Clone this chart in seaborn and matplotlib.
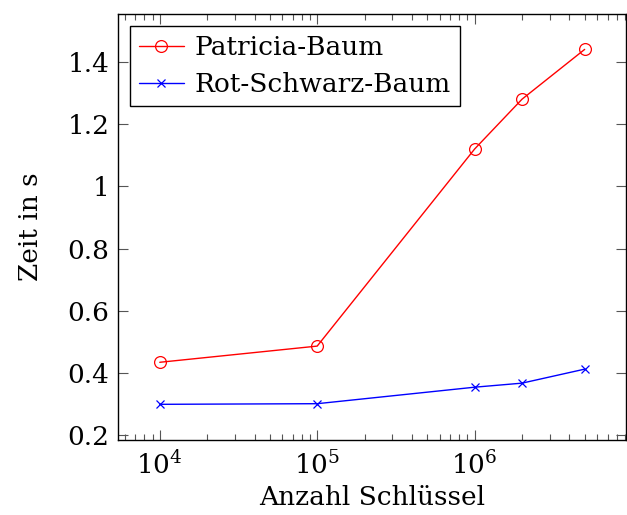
import matplotlib
matplotlib.use('Agg')
import matplotlib.pyplot as plt
import matplotlib.ticker as mticker
import seaborn as sns

# data
keys = [1e4, 1e5, 1e6, 2e6, 5e6]
patricia = [0.435, 0.487, 1.12, 1.28, 1.44]
rbtree = [0.300, 0.302, 0.355, 0.368, 0.413]
labels = ['Patricia-Baum', 'Rot-Schwarz-Baum']

sns.set_style('ticks')
plt.rcParams['font.family'] = ['DejaVu Serif']
plt.rcParams['mathtext.fontset'] = 'dejavuserif'
plt.rcParams['text.color'] = 'black'
plt.rcParams['axes.labelcolor'] = 'black'
fs = 19

fig = plt.figure(figsize=(6.27, 5.15), dpi=100)
ax = fig.add_axes([0.188, 0.146, 0.810, 0.827])

sns.lineplot(x=keys, y=patricia, color='red', marker='o', markersize=8.5,
             markerfacecolor='none', markeredgecolor='red', markeredgewidth=0.9,
             linewidth=1.0, label=labels[0], ax=ax)
sns.lineplot(x=keys, y=rbtree, color='blue', marker='x', markersize=6,
             markeredgecolor='blue', markeredgewidth=0.9,
             linewidth=1.0, label=labels[1], ax=ax)

ax.set_xscale('log')
ax.set_xlim(10 ** 3.734, 10 ** 6.96)
ax.set_ylim(0.186, 1.554)
ax.set_yticks([0.2, 0.4, 0.6, 0.8, 1.0, 1.2, 1.4])
ax.yaxis.set_major_formatter(mticker.FormatStrFormatter('%g'))
ax.xaxis.set_major_locator(mticker.LogLocator(base=10, numticks=10))
ax.xaxis.set_minor_locator(mticker.LogLocator(base=10, subs=range(2, 10), numticks=10))
ax.xaxis.set_minor_formatter(mticker.NullFormatter())

ax.tick_params(which='both', direction='in', top=True, right=True, colors='#555555',
               labelcolor='black', width=0.8)
ax.tick_params(which='major', length=7, labelsize=fs)
ax.tick_params(axis='y', which='major', pad=6)
ax.tick_params(axis='x', which='major', pad=8)
ax.tick_params(which='minor', length=4)
for s in ax.spines.values():
    s.set_visible(True)
    s.set_color('black')
    s.set_linewidth(1.0)

ax.set_xlabel('Anzahl Schlüssel', fontsize=fs, labelpad=4)
ax.set_ylabel('Zeit in s', fontsize=fs, labelpad=18)

leg = ax.legend(loc='upper left', fontsize=fs, frameon=True, fancybox=False,
                edgecolor='black', framealpha=1, borderpad=0.35, labelspacing=0.45,
                handlelength=1.7, handletextpad=0.4, borderaxespad=0.45)
leg.get_frame().set_linewidth(1.0)

fig.savefig('out.png', dpi=100)
